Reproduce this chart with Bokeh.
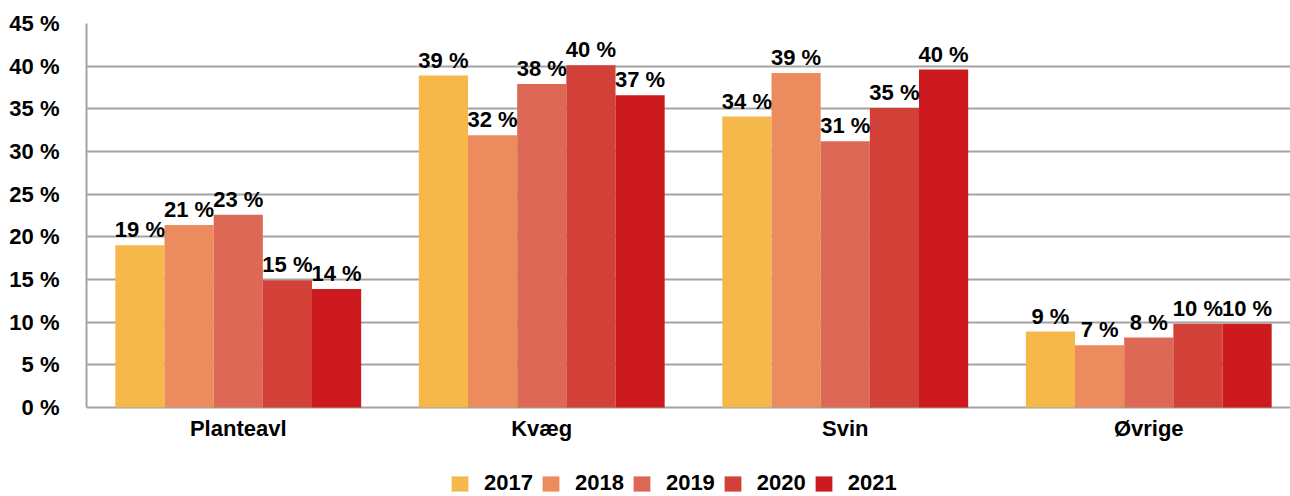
from bokeh.plotting import figure
from bokeh.models import (ColumnDataSource, FixedTicker, LabelSet, Legend,
                          LegendItem, Range1d)
from bokeh.core.properties import value
from bokeh.embed import file_html
from bokeh.resources import INLINE

categories = ["Planteavl", "Kvæg", "Svin", "Øvrige"]
years = ["2017", "2018", "2019", "2020", "2021"]
v2017 = [19.0, 38.9, 34.1, 8.9]
v2018 = [21.4, 31.9, 39.2, 7.3]
v2019 = [22.6, 37.9, 31.2, 8.2]
v2020 = [14.9, 40.1, 35.1, 9.8]
v2021 = [13.9, 36.6, 39.6, 9.8]
series = [v2017, v2018, v2019, v2020, v2021]
y_ticks = [0, 5, 10, 15, 20, 25, 30, 35, 40, 45]
colors = ["#f6b84a", "#ec8c5e", "#dd6855", "#d24138", "#cc1a1e"]

FONT = "Liberation Sans"
FS = "22px"
BAR_W = 0.162
GRID = "#a3a3a3"
TXT = "#000000"

# frame spans 23..496 px; 0 % sits at 407 px (384 px for 45 %)
p = figure(width=1290, height=496, output_backend="svg", toolbar_location=None,
           x_range=Range1d(0, 3.967), y_range=Range1d(-10.43, 45),
           min_border_left=86, min_border_right=0, min_border_top=23,
           min_border_bottom=0)
p.outline_line_color = None
p.xgrid.visible = False
p.ygrid.ticker = FixedTicker(ticks=y_ticks)
p.ygrid.grid_line_color = GRID
p.ygrid.grid_line_width = 2
p.xaxis.visible = False

legend_items = []
for k, (yr, vals, col) in enumerate(zip(years, series, colors)):
    xs = [i + 0.5 + (k - 2) * BAR_W for i in range(len(categories))]
    src = ColumnDataSource(dict(x=xs, top=vals,
                                lab=[f"{int(v + 0.5)} %" for v in vals]))
    r = p.vbar(x="x", top="top", bottom=0, width=BAR_W, source=src,
               fill_color=col, line_color=None)
    legend_items.append(LegendItem(label=yr, renderers=[r]))
    p.add_layout(LabelSet(x="x", y="top", text="lab", source=src,
                          text_align="center", text_baseline="alphabetic",
                          y_offset=8, text_font=value(FONT),
                          text_font_size=value(FS),
                          text_font_style="bold", text_color=TXT))

# category labels under the 0 % line
xt = [i + 0.5 for i in range(len(categories))]
cat_src = ColumnDataSource(dict(x=xt, y=[0] * len(categories), t=categories))
p.add_layout(LabelSet(x="x", y="y", text="t", source=cat_src,
                      text_align="center", text_baseline="alphabetic",
                      y_offset=-29, text_font=value(FONT),
                      text_font_size=value(FS), text_font_style="bold",
                      text_color=TXT))

# y axis
p.yaxis.ticker = FixedTicker(ticks=y_ticks)
p.yaxis.bounds = (0, 45)
p.yaxis.major_label_overrides = {t: f"{t} %" for t in y_ticks}
p.yaxis.major_tick_line_color = None
p.yaxis.minor_tick_line_color = None
p.yaxis.axis_line_color = GRID
p.yaxis.axis_line_width = 2
p.yaxis.major_label_standoff = 21
p.yaxis.major_label_text_font = FONT
p.yaxis.major_label_text_font_size = FS
p.yaxis.major_label_text_font_style = "bold"
p.yaxis.major_label_text_color = TXT

legend = Legend(items=legend_items,
                orientation="horizontal", location=(363, 0),
                glyph_width=21, glyph_height=19, label_standoff=14, spacing=7,
                padding=0, margin=0, border_line_color=None,
                background_fill_alpha=0,
                label_text_font=FONT, label_text_font_size=FS,
                label_text_font_style="bold", label_text_color=TXT)
p.add_layout(legend, "center")

open("out.html", "w").write(file_html(p, INLINE))
